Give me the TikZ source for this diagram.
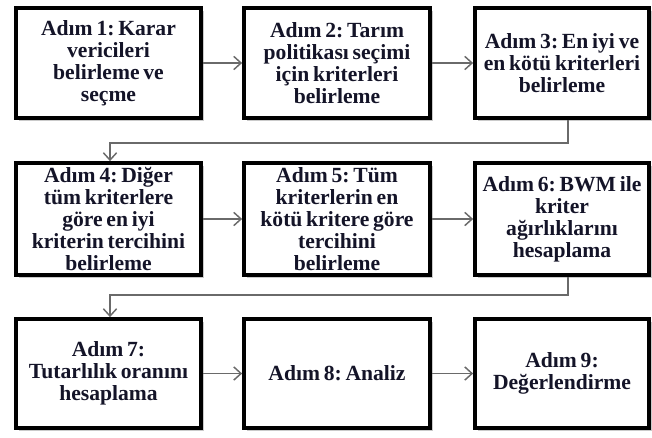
\documentclass[tikz,border=0pt]{standalone}
\usepackage{fontspec}
\setmainfont[WordSpace=0.7]{Liberation Serif}
\frenchspacing
\usetikzlibrary{arrows.meta,shadows,positioning}
\definecolor{linkgray}{HTML}{6A6A6A}
\definecolor{txtdark}{HTML}{141428}
\tikzset{
  stepbox/.style={draw=black, line width=2.8pt, fill=white, align=center,
    inner sep=2pt, font=\fontsize{16.2}{16.5}\selectfont\bfseries, text=txtdark,
    drop shadow={shadow xshift=2pt, shadow yshift=-2pt, opacity=0.35, fill=black!60}},
  link/.style={draw=linkgray, line width=1.1pt,
    -{Straight Barb[length=5.5pt,width=10pt,line width=1.1pt]}}
}
\begin{document}
\begin{tikzpicture}[x=0.75pt,y=-0.75pt]
\useasboundingbox (0,0) rectangle (652,437);
% row 1
\node[stepbox, minimum width=185*0.75pt, minimum height=110*0.75pt] (s1) at (108.5,63) {Adım 1: Karar\\vericileri\\belirleme ve\\seçme};
\node[stepbox, minimum width=186*0.75pt, minimum height=110*0.75pt] (s2) at (337,63) {Adım 2: Tarım\\politikası seçimi\\için kriterleri\\belirleme};
\node[stepbox, minimum width=174*0.75pt, minimum height=110*0.75pt] (s3) at (562,63) {Adım 3: En iyi ve\\en kötü kriterleri\\belirleme};
% row 2
\node[stepbox, minimum width=185*0.75pt, minimum height=112*0.75pt] (s4) at (108.5,219) {Adım 4: Diğer\\tüm kriterlere\\göre en iyi\\kriterin tercihini\\belirleme};
\node[stepbox, minimum width=186*0.75pt, minimum height=112*0.75pt] (s5) at (337,219) {Adım 5: Tüm\\kriterlerin en\\kötü kritere göre\\tercihini\\belirleme};
\node[stepbox, minimum width=174*0.75pt, minimum height=112*0.75pt] (s6) at (562,219) {Adım 6: BWM ile\\kriter\\ağırlıklarını\\hesaplama};
% row 3
\node[stepbox, minimum width=185*0.75pt, minimum height=109*0.75pt] (s7) at (108.5,373.5) {Adım 7:\\Tutarlılık oranını\\hesaplama};
\node[stepbox, minimum width=186*0.75pt, minimum height=109*0.75pt] (s8) at (337,373.5) {Adım 8: Analiz};
\node[stepbox, minimum width=174*0.75pt, minimum height=109*0.75pt] (s9) at (562,373.5) {Adım 9:\\Değerlendirme};
% coordinates for bends
\coordinate (b1a) at (568,143);
\coordinate (b1b) at (110,143);
\coordinate (b2a) at (568,295);
\coordinate (b2b) at (110,295);
% links
\draw[link] (s1) -- (s2);
\draw[link] (s2) -- (s3);
\draw[link] (s4) -- (s5);
\draw[link] (s5) -- (s6);
\draw[link] (s7) -- (s8);
\draw[link] (s8) -- (s9);
\draw[link] (s3.south -| b1a) -- (b1a) -- (b1b) -- (s4.north -| b1b);
\draw[link] (s6.south -| b2a) -- (b2a) -- (b2b) -- (s7.north -| b2b);
\end{tikzpicture}
\end{document}
